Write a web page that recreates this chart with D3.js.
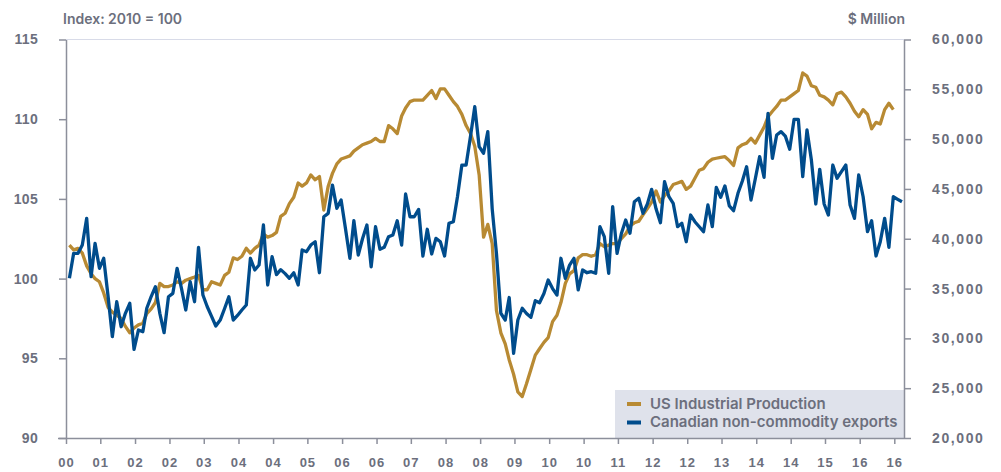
<!DOCTYPE html>
<html>
<head>
<meta charset="utf-8">
<script src="https://cdn.jsdelivr.net/npm/d3@7"></script>
<style>
  body { margin: 0; background: #fff; }
  svg { display: block; font-family: Inter, "Open Sans", sans-serif; }
</style>
</head>
<body>
<svg id="chart"></svg>
<script>
// Monthly series, first month = Sep 2000
const startYear = 2000;
const startMonth = 8;

// US Industrial Production, index 2010 = 100 (left axis)
const usProduction = [
  102.1, 101.8, 101.9, 101.6, 100.8, 100.3, 100.0, 99.8, 99.1, 98.2,
  97.9, 97.7, 97.5, 97.0, 96.6, 96.9, 97.1, 97.2, 97.8, 98.1,
  98.5, 99.7, 99.5, 99.5, 99.6, 99.8, 99.7, 99.9, 100.0, 100.1,
  100.2, 99.3, 99.3, 99.8, 99.7, 99.6, 100.2, 100.4, 101.3, 101.2,
  101.4, 101.9, 101.6, 101.9, 102.1, 102.8, 102.6, 102.7, 102.9, 103.9,
  104.1, 104.7, 105.1, 106.0, 105.8, 106.0, 106.5, 106.2, 106.4, 104.3,
  105.8, 106.6, 107.2, 107.5, 107.6, 107.7, 108.0, 108.2, 108.4, 108.5,
  108.6, 108.8, 108.6, 108.6, 109.6, 109.4, 109.1, 110.2, 110.7, 111.1,
  111.2, 111.2, 111.2, 111.5, 111.8, 111.3, 111.9, 111.9, 111.5, 111.1,
  110.8, 110.3, 109.6, 109.1, 108.3, 106.5, 102.6, 103.4, 102.2, 98.0,
  96.6, 95.9, 94.9, 94.0, 92.9, 92.6, 93.4, 94.3, 95.2, 95.6,
  96.0, 96.3, 97.3, 97.7, 98.5, 99.7, 100.3, 100.5, 101.3, 101.5,
  101.5, 101.4, 101.5, 102.2, 102.0, 102.1, 102.2, 102.2, 102.5, 102.8,
  103.3, 103.5, 103.6, 104.0, 104.4, 104.8, 105.5, 104.8, 105.2, 105.5,
  105.9, 106.0, 106.1, 105.6, 105.8, 106.3, 106.8, 106.9, 107.3, 107.5,
  107.55, 107.6, 107.65, 107.4, 107.1, 108.2, 108.4, 108.5, 108.8, 108.5,
  109.0, 109.5, 110.15, 110.5, 110.8, 111.2, 111.2, 111.4, 111.6, 111.8,
  112.9, 112.7, 112.1, 112.0, 111.5, 111.4, 111.2, 110.9, 111.6, 111.7,
  111.4, 111.0, 110.5, 110.15, 110.6, 110.3, 109.4, 109.8, 109.7, 110.6,
  111.0, 110.6
];

// Canadian non-commodity exports, $ million (right axis)
const canExports = [
  36030, 38540, 38540, 39370, 42050, 36190, 39540, 37030, 38040, 34200,
  30170, 33680, 31170, 32510, 33520, 28900, 30840, 30670, 33020, 34200,
  35190, 32510, 30570, 34180, 34520, 37030, 35000, 32850, 35690, 33680,
  39140, 34350, 33200, 32200, 31240, 31840, 33000, 34180, 31840, 32300,
  32850, 33350, 38040, 36860, 37360, 41380, 35360, 38200, 36400, 36900,
  36500, 36030, 36590, 35360, 38870, 38700, 39370, 39700, 36590, 42210,
  42550, 45390, 43050, 43890, 41000, 38040, 41810, 38370, 40000, 41380,
  37190, 41210, 38940, 39140, 40210, 40380, 41810, 39370, 44490, 42210,
  42210, 42950, 38270, 40950, 38470, 40040, 39700, 38270, 41550, 41710,
  44220, 47400, 47400, 50300, 53250, 49240, 48580, 50750, 43000, 38540,
  32520, 31840, 34100, 28500, 31840, 33020, 32500, 32110, 33780, 33580,
  34500, 35860, 35000, 34350, 38040, 36030, 37360, 38040, 34860, 36860,
  36590, 36690, 36530, 41210, 40210, 36530, 43220, 38540, 40500, 41880,
  40550, 43720, 44060, 42550, 43500, 44960, 43000, 41610, 45730, 44220,
  43560, 41210, 41550, 39700, 42380, 41710, 41200, 40710, 43390, 41210,
  45160, 44160, 45300, 43290, 42820, 44560, 45800, 47230, 43890, 46000,
  48240, 46170, 52590, 48070, 50410, 50750, 50310, 48980, 51990, 51990,
  46230, 50920, 47900, 43490, 46970, 43490, 42380, 47400, 46070, 46730,
  47400, 43390, 42050, 46400, 44220, 40710, 41810, 38270, 39700, 42050,
  39140, 44220, 43960, 43720
];

const leftTicks = [90, 95, 100, 105, 110, 115];
const rightTicks = [20000, 25000, 30000, 35000, 40000, 45000, 50000, 55000, 60000];
const seriesNames = ["US Industrial Production", "Canadian non-commodity exports"];
const colors = ["#b88a33", "#004c8c"];

const width = 1001;
const height = 472;
const margin = { top: 39.5, right: 97, bottom: 34, left: 66 };
const textColor = "#6c6f7d";
const axisColor = "#8c8f9b";

const svg = d3.select("#chart")
  .attr("width", width)
  .attr("height", height);

// month dates (points sit late in each month)
const monthDate = i => new Date(startYear, startMonth + i, 25);
const axisStart = new Date(startYear, startMonth, 1);
const tickDates = d3.range(25).map(k => d3.timeMonth.offset(axisStart, 8 * k));

const x = d3.scaleTime()
  .domain([axisStart, tickDates[tickDates.length - 1]])
  .range([66, 894.3]);

const yLeft = d3.scaleLinear()
  .domain([90, 115])
  .range([height - margin.bottom, margin.top]);

const yRight = d3.scaleLinear()
  .domain([20000, 60000])
  .range([height - margin.bottom, margin.top]);

const plotRight = width - margin.right;

// top grid line
svg.append("line")
  .attr("x1", margin.left).attr("x2", plotRight)
  .attr("y1", yLeft(115)).attr("y2", yLeft(115))
  .attr("stroke", "#d8dbe8").attr("stroke-width", 1.2);

// legend box (behind lines)
const legend = svg.append("g");
legend.append("rect")
  .attr("x", 615).attr("y", 390)
  .attr("width", plotRight - 615).attr("height", yLeft(90) - 390)
  .attr("fill", "#dfe2eb");

// lines
const lineUS = d3.line()
  .x((d, i) => x(monthDate(i)))
  .y(d => yLeft(d));

const lineCA = d3.line()
  .x((d, i) => x(monthDate(i)))
  .y(d => yRight(d));

svg.append("path")
  .datum(usProduction)
  .attr("fill", "none")
  .attr("stroke", colors[0])
  .attr("stroke-width", 3.3)
  .attr("stroke-linejoin", "round")
  .attr("d", lineUS);

svg.append("path")
  .datum(canExports)
  .attr("fill", "none")
  .attr("stroke", colors[1])
  .attr("stroke-width", 3.3)
  .attr("stroke-linejoin", "round")
  .attr("d", lineCA);

// axes
function styleAxis(g, size, spacing) {
  g.selectAll(".domain").attr("stroke", axisColor).attr("stroke-width", 1.5);
  g.selectAll(".tick line").attr("stroke", axisColor).attr("stroke-width", 1.5);
  g.selectAll(".tick text")
    .attr("fill", textColor)
    .style("font-size", size + "px")
    .style("font-weight", 600)
    .style("letter-spacing", spacing + "px");
}

svg.append("g")
  .attr("transform", `translate(${margin.left},0)`)
  .call(d3.axisLeft(yLeft).tickValues(leftTicks).tickSize(7).tickSizeOuter(0).tickPadding(21))
  .call(styleAxis, 14, 0.3);

svg.append("g")
  .attr("transform", `translate(${plotRight},0)`)
  .call(d3.axisRight(yRight).tickValues(rightTicks).tickSize(7).tickSizeOuter(0)
    .tickPadding(21).tickFormat(d3.format(",")))
  .call(styleAxis, 14, 1.6);

const xAxis = svg.append("g")
  .attr("transform", `translate(0,${yLeft(90)})`)
  .call(d3.axisBottom(x).tickValues(tickDates).tickFormat(d3.timeFormat("%y"))
    .tickSize(6).tickSizeOuter(0).tickPadding(14))
  .call(styleAxis, 13, 1);
xAxis.select(".domain").attr("d", `M${margin.left - 8},0.5H${plotRight}`);

// axis titles
svg.append("text")
  .attr("x", 63).attr("y", 24)
  .attr("fill", textColor)
  .style("font-size", "14px").style("font-weight", 600)
  .text("Index: 2010 = 100");

svg.append("text")
  .attr("x", plotRight + 1).attr("y", 24)
  .attr("text-anchor", "end")
  .attr("fill", textColor)
  .style("font-size", "14px").style("font-weight", 600)
  .text("$ Million");

// legend entries
seriesNames.forEach((name, i) => {
  const yy = 404 + i * 18.5;
  legend.append("line")
    .attr("x1", 627).attr("x2", 641)
    .attr("y1", yy).attr("y2", yy)
    .attr("stroke", colors[i]).attr("stroke-width", 4);
  legend.append("text")
    .attr("x", 650).attr("y", yy + 4.5)
    .attr("fill", textColor)
    .style("font-size", "15px").style("font-weight", 600)
    .text(name);
});
</script>
</body>
</html>
